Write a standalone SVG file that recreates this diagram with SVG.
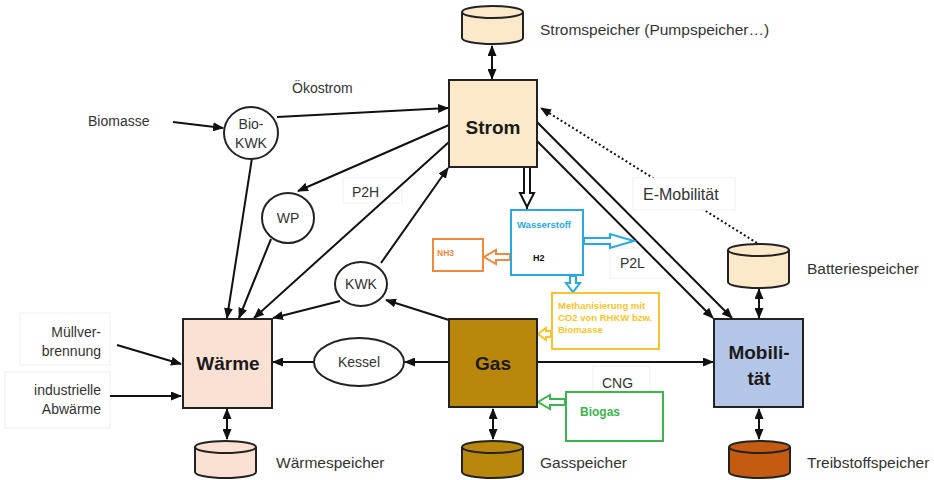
<svg xmlns="http://www.w3.org/2000/svg" width="934" height="480" viewBox="0 0 934 480">
<style>
.lbl{font-family:"Liberation Sans",Arial,sans-serif;font-size:14px;fill:#333}
.sto{font-size:15.5px}
.big{font-family:"Liberation Sans",Arial,sans-serif;font-size:19px;font-weight:bold;fill:#1a1a1a;text-anchor:middle}
.node{stroke:#222;stroke-width:2}
.ln{stroke:#111;stroke-width:2;fill:none}
.faint{fill:#fff;stroke:#efefef;stroke-width:1}
.small{font-family:"Liberation Sans",Arial,sans-serif;font-weight:bold}
</style>
<defs>
<marker id="ah" markerUnits="userSpaceOnUse" markerWidth="11" markerHeight="9" refX="10" refY="4.5" orient="auto-start-reverse"><path d="M0,0 L11,4.5 L0,9 z" fill="#111"/></marker>
</defs>
<rect width="934" height="480" fill="#fff"/>

<!-- faint label boxes -->
<rect class="faint" x="20" y="313" width="90" height="52"/>
<rect class="faint" x="5" y="372" width="105" height="56"/>
<rect class="faint" x="343" y="178" width="59" height="25"/>
<rect class="faint" x="610" y="248" width="60" height="30"/>
<rect class="faint" x="593" y="366" width="57" height="26"/>

<!-- connectors -->
<g id="connectors">
  <line class="ln" x1="492" y1="46" x2="492" y2="79" marker-start="url(#ah)" marker-end="url(#ah)"/>
  <line class="ln" x1="173" y1="122" x2="223" y2="128" marker-end="url(#ah)"/>
  <line class="ln" x1="277" y1="117" x2="448" y2="108" marker-end="url(#ah)"/>
  <line class="ln" x1="252" y1="158" x2="227" y2="318" marker-end="url(#ah)"/>
  <line class="ln" x1="449" y1="125" x2="298" y2="191" marker-end="url(#ah)"/>
  <line class="ln" x1="271" y1="239" x2="239" y2="318" marker-end="url(#ah)"/>
  <line class="ln" x1="449" y1="142" x2="254" y2="318" marker-end="url(#ah)"/>
  <line class="ln" x1="381" y1="263" x2="448" y2="168" marker-end="url(#ah)"/>
  <line class="ln" x1="340" y1="301" x2="273" y2="318" marker-end="url(#ah)"/>
  <line class="ln" x1="449" y1="320" x2="386" y2="300" marker-end="url(#ah)"/>
  <line class="ln" x1="449" y1="362" x2="405" y2="362" marker-end="url(#ah)"/>
  <line class="ln" x1="314" y1="362" x2="273" y2="362" marker-end="url(#ah)"/>
  <line class="ln" x1="537" y1="362" x2="713" y2="362" marker-end="url(#ah)"/>
  <line class="ln" x1="117" y1="345" x2="181" y2="364" marker-end="url(#ah)"/>
  <line class="ln" x1="110" y1="396" x2="181" y2="396" marker-end="url(#ah)"/>
  <line class="ln" x1="537" y1="122" x2="732" y2="318" marker-end="url(#ah)"/>
  <line class="ln" x1="537" y1="141" x2="713" y2="318" marker-end="url(#ah)"/>
  <line x1="757" y1="243" x2="541" y2="108" stroke="#111" stroke-width="2" stroke-dasharray="2,2.5" marker-end="url(#ah)"/>
  <line class="ln" x1="227" y1="409" x2="227" y2="439" marker-start="url(#ah)" marker-end="url(#ah)"/>
  <line class="ln" x1="493" y1="409" x2="493" y2="439" marker-start="url(#ah)" marker-end="url(#ah)"/>
  <line class="ln" x1="759" y1="409" x2="759" y2="439" marker-start="url(#ah)" marker-end="url(#ah)"/>
  <line class="ln" x1="759" y1="289" x2="759" y2="318" marker-start="url(#ah)" marker-end="url(#ah)"/>
  <!-- hollow block arrows -->
  <polygon points="524,167 530,167 530,193 534,193 527,207 520,193 524,193" fill="#fff" stroke="#111" stroke-width="2"/>
  <line x1="527" y1="207" x2="527" y2="210" stroke="#111" stroke-width="2"/>
  <polygon points="584,238 610,238 610,234 634,241 610,248 610,244 584,244" fill="#fff" stroke="#29a8e0" stroke-width="2"/>
  <polygon points="510,254 496,254 496,250 484,257 496,264 496,260 510,260" fill="#fff" stroke="#f0893d" stroke-width="2"/>
  <polygon points="570,276 576,276 576,283 580,283 573,292 566,283 570,283" fill="#fff" stroke="#29a8e0" stroke-width="2"/>
  <polygon points="551,331 546,331 546,328 538,334 546,340 546,337 551,337" fill="#fff" stroke="#f7c52b" stroke-width="2"/>
  <polygon points="565,399 550,399 550,395 538,402 550,409 550,405 565,405" fill="#fff" stroke="#3cb54a" stroke-width="2"/>
</g>

<!-- E-Mobilität label box over dotted line -->
<g id="lbl-emob">
  <rect class="faint" x="633" y="178" width="102" height="32"/>
  <text class="lbl" x="643" y="200" style="font-size:16px">E-Mobilität</text>
</g>

<g id="strom">
  <rect class="node" x="449" y="80" width="88" height="87" fill="#fce9c9"/>
  <text class="big" x="493" y="134">Strom</text>
</g>
<g id="stromspeicher">
  <path class="node" d="M462,12 A30.5,6 0 0 1 523,12 V38 A30.5,6 0 0 1 462,38 Z" fill="#fce9c9"/>
  <path d="M462,12 A30.5,6 0 0 0 523,12" fill="none" stroke="#222" stroke-width="2"/>
  <text class="lbl sto" x="540" y="35">Stromspeicher (Pumpspeicher…)</text>
</g>
<g id="waerme">
  <rect class="node" x="183" y="319" width="89" height="89" fill="#fbe1d3"/>
  <text class="big" x="228" y="370">Wärme</text>
</g>
<g id="waermespeicher">
  <path class="node" d="M195,447 A30.5,6 0 0 1 256,447 V472 A30.5,6 0 0 1 195,472 Z" fill="#fbe1d3"/>
  <path d="M195,447 A30.5,6 0 0 0 256,447" fill="none" stroke="#222" stroke-width="2"/>
  <text class="lbl sto" x="276" y="468">Wärmespeicher</text>
</g>
<g id="gas">
  <rect class="node" x="449" y="319" width="88" height="88" fill="#b8870c"/>
  <text class="big" x="493" y="370">Gas</text>
</g>
<g id="gasspeicher">
  <path class="node" d="M462,447 A30.5,6 0 0 1 523,447 V472 A30.5,6 0 0 1 462,472 Z" fill="#b8870c"/>
  <path d="M462,447 A30.5,6 0 0 0 523,447" fill="none" stroke="#222" stroke-width="2"/>
  <text class="lbl sto" x="540" y="468">Gasspeicher</text>
</g>
<g id="mobilitaet">
  <rect class="node" x="714" y="319" width="89" height="88" fill="#b4c6e7"/>
  <text class="big" x="759" y="359">Mobili-</text>
  <text class="big" x="759" y="385">tät</text>
</g>
<g id="treibstoffspeicher">
  <path class="node" d="M729,447 A30.5,6 0 0 1 790,447 V472 A30.5,6 0 0 1 729,472 Z" fill="#c55a11"/>
  <path d="M729,447 A30.5,6 0 0 0 790,447" fill="none" stroke="#222" stroke-width="2"/>
  <text class="lbl sto" x="807" y="468">Treibstoffspeicher</text>
</g>
<g id="batteriespeicher">
  <path class="node" d="M728,250 A30.5,6 0 0 1 789,250 V282 A30.5,6 0 0 1 728,282 Z" fill="#fce9c9"/>
  <path d="M728,250 A30.5,6 0 0 0 789,250" fill="none" stroke="#222" stroke-width="2"/>
  <text class="lbl sto" x="807" y="274">Batteriespeicher</text>
</g>
<g id="biokwk">
  <ellipse class="node" cx="251" cy="133" rx="27" ry="26" fill="#fff"/>
  <text class="lbl" x="251" y="129" text-anchor="middle">Bio-</text>
  <text class="lbl" x="251" y="148" text-anchor="middle">KWK</text>
</g>
<g id="wp">
  <ellipse class="node" cx="288" cy="218" rx="26" ry="25" fill="#fff"/>
  <text class="lbl" x="288" y="223" text-anchor="middle">WP</text>
</g>
<g id="kwk">
  <ellipse class="node" cx="361" cy="284" rx="26" ry="22" fill="#fff"/>
  <text class="lbl" x="361" y="289" text-anchor="middle">KWK</text>
</g>
<g id="kessel">
  <ellipse class="node" cx="359" cy="362" rx="45" ry="24" fill="#fff"/>
  <text class="lbl" x="359" y="367" text-anchor="middle">Kessel</text>
</g>
<g id="wasserstoff">
  <rect x="511" y="210" width="72" height="65" fill="#fff" stroke="#29a8e0" stroke-width="2"/>
  <text class="small" x="517" y="228" fill="#29a8e0" style="font-size:9.5px">Wasserstoff</text>
  <text class="small" x="533" y="261" fill="#111" style="font-size:9px">H2</text>
</g>
<g id="nh3">
  <rect x="433" y="239" width="50" height="32" fill="#fff" stroke="#f0893d" stroke-width="2"/>
  <text class="small" x="437" y="256" fill="#f0893d" style="font-size:8.5px">NH3</text>
</g>
<g id="methanisierung">
  <rect x="552" y="293" width="107" height="56" fill="#fff" stroke="#f7c52b" stroke-width="2"/>
  <text class="small" x="558" y="309" fill="#f7c52b" style="font-size:9.5px">Methanisierung mit</text>
  <text class="small" x="558" y="321" fill="#f7c52b" style="font-size:9.5px">CO2 von RHKW bzw.</text>
  <text class="small" x="558" y="333" fill="#f7c52b" style="font-size:9.5px">Biomasse</text>
</g>
<g id="biogas">
  <rect x="566" y="392" width="97" height="49" fill="#fff" stroke="#3cb54a" stroke-width="2"/>
  <text class="small" x="580" y="416" fill="#3cb54a" style="font-size:12px">Biogas</text>
</g>

<g id="labels">
  <text class="lbl" x="88" y="126">Biomasse</text>
  <text class="lbl" x="292" y="93">Ökostrom</text>
  <text class="lbl" x="352" y="197">P2H</text>
  <text class="lbl" x="620" y="268">P2L</text>
  <text class="lbl" x="602" y="388">CNG</text>
  <text class="lbl" x="101" y="337" text-anchor="end">Müllver-</text>
  <text class="lbl" x="101" y="356" text-anchor="end">brennung</text>
  <text class="lbl" x="101" y="395" text-anchor="end">industrielle</text>
  <text class="lbl" x="101" y="414" text-anchor="end">Abwärme</text>
</g>
</svg>
